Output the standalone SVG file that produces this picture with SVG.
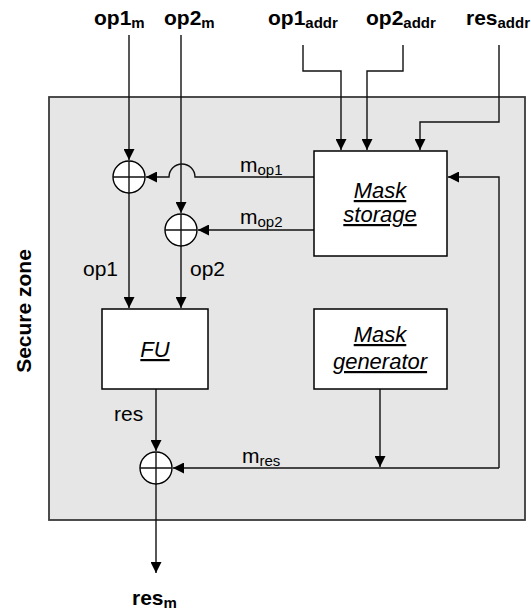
<svg xmlns="http://www.w3.org/2000/svg" width="531" height="612" viewBox="0 0 531 612">
<style>
.t{font-family:"Liberation Sans",Arial,sans-serif;font-size:21px;fill:#000}
.b{font-weight:bold}
.s{font-size:15px}
.bx{fill:#fff;stroke:#000;stroke-width:1.5}
.u{font-style:italic;text-decoration:underline;font-size:22px}
.ln{fill:none;stroke:#111;stroke-width:1.4}
.xo{fill:#fff;stroke:#000;stroke-width:1.4}
</style>
<defs>
<marker id="ar" markerUnits="userSpaceOnUse" markerWidth="11" markerHeight="11" refX="10" refY="5" orient="auto" viewBox="0 0 10 10">
<path d="M0,0 L10,5 L0,10 z" fill="#000"/>
</marker>
</defs>
<rect id="zone" x="49" y="97" width="476" height="423" fill="#e6e6e6" stroke="#3a3a3a" stroke-width="1.8"/>
<text class="t b" transform="translate(31,311) rotate(-90)" text-anchor="middle">Secure zone</text>

<g id="connectors" class="ln">
<path d="M129,35 V160" marker-end="url(#ar)"/>
<path d="M129,193 V308" marker-end="url(#ar)"/>
<path d="M181,35 V213" marker-end="url(#ar)"/>
<path d="M181,246 V308" marker-end="url(#ar)"/>
<path d="M303,45 V71 H341 V150" marker-end="url(#ar)"/>
<path d="M403,45 V71 H367 V150" marker-end="url(#ar)"/>
<path d="M499,45 V122 H420 V150" marker-end="url(#ar)"/>
<path d="M314,177 H195 A13,13 0 0 0 169,177 H146" marker-end="url(#ar)"/>
<path d="M314,230 H198" marker-end="url(#ar)"/>
<path d="M380,389 V467" marker-end="url(#ar)"/>
<path d="M499,468 H173" marker-end="url(#ar)"/>
<path d="M499,468 V177 H448" marker-end="url(#ar)"/>
<path d="M156,389 V451" marker-end="url(#ar)"/>
<path d="M156,484 V573" marker-end="url(#ar)"/>
</g>

<g id="xor1"><circle class="xo" cx="129" cy="177" r="16"/><path class="ln" d="M113,177 H145 M129,161 V193"/></g>
<g id="xor2"><circle class="xo" cx="181" cy="230" r="16"/><path class="ln" d="M165,230 H197 M181,214 V246"/></g>
<g id="xor3"><circle class="xo" cx="156" cy="468" r="16"/><path class="ln" d="M140,468 H172 M156,452 V484"/></g>

<g id="mask-storage"><rect class="bx" x="314" y="151" width="133" height="105"/>
<text class="t u" x="380" y="198" text-anchor="middle">Mask</text>
<text class="t u" x="380" y="222" text-anchor="middle">storage</text></g>
<g id="fu"><rect class="bx" x="102" y="309" width="106" height="80"/>
<text class="t u" x="155" y="357" text-anchor="middle">FU</text></g>
<g id="mask-generator"><rect class="bx" x="314" y="309" width="133" height="80"/>
<text class="t u" x="380" y="342" text-anchor="middle">Mask</text>
<text class="t u" x="380" y="369" text-anchor="middle">generator</text></g>

<g id="labels">
<text class="t b" x="94" y="25">op1<tspan class="s" dy="3">m</tspan></text>
<text class="t b" x="164" y="25">op2<tspan class="s" dy="3">m</tspan></text>
<text class="t b" x="268" y="25">op1<tspan class="s" dy="3">addr</tspan></text>
<text class="t b" x="366" y="25">op2<tspan class="s" dy="3">addr</tspan></text>
<text class="t b" x="466" y="25">res<tspan class="s" dy="3">addr</tspan></text>
<text class="t b" x="132" y="605">res<tspan class="s" dy="3">m</tspan></text>
<text class="t" x="83" y="276">op1</text>
<text class="t" x="190" y="276">op2</text>
<text class="t" x="114" y="421">res</text>
<text class="t" x="240" y="172">m<tspan class="s" dy="3">op1</tspan></text>
<text class="t" x="240" y="224">m<tspan class="s" dy="3">op2</tspan></text>
<text class="t" x="242" y="463">m<tspan class="s" dy="3">res</tspan></text>
</g>
</svg>
